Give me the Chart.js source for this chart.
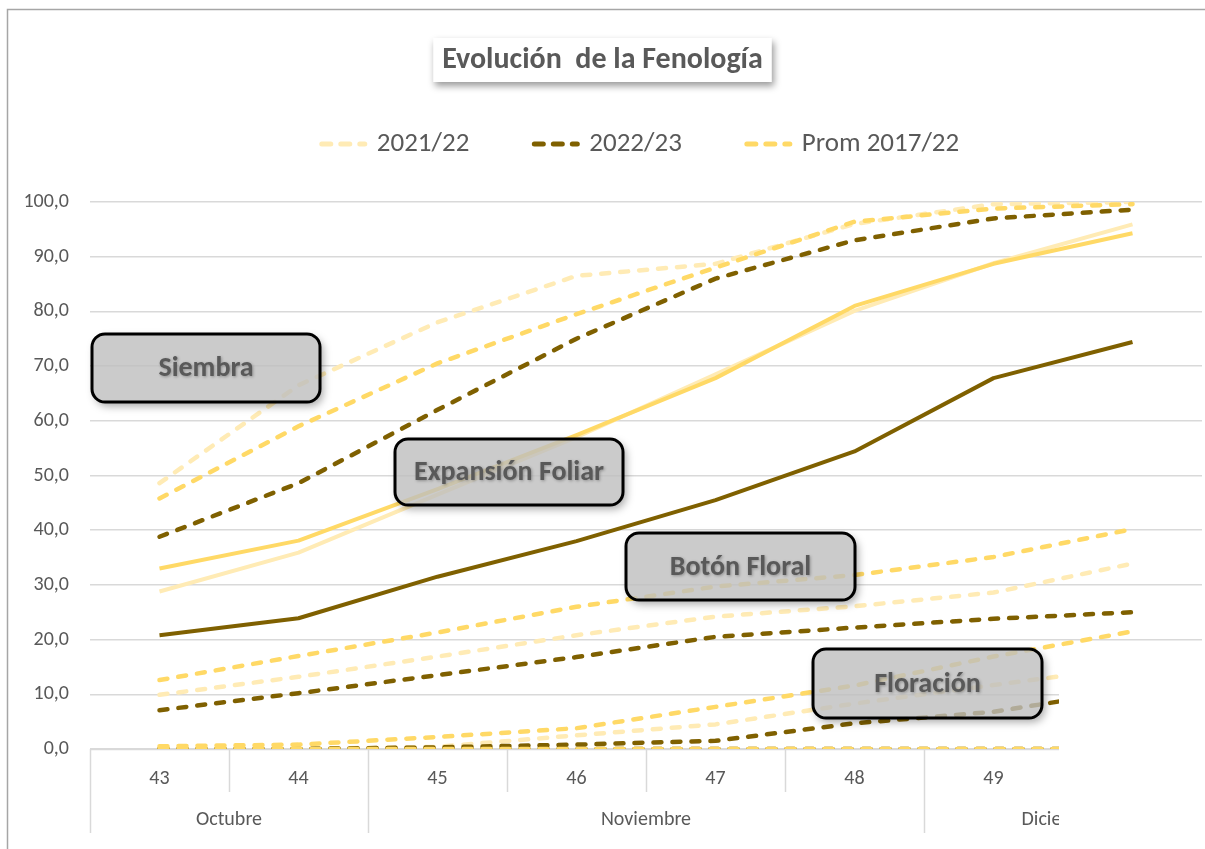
<!DOCTYPE html>
<html>
<head>
<meta charset="utf-8">
<script src="https://cdn.jsdelivr.net/npm/chart.js@4.4.1/dist/chart.umd.min.js"></script>
<style>
  html, body { margin: 0; padding: 0; background: #fff; }
  #wrap { width: 1205px; height: 849px; position: relative; }
</style>
</head>
<body>
<div id="wrap"><canvas id="chart"></canvas></div>
<script>
// semanas del año y meses (eje X de dos niveles)
const weeks = ['43', '44', '45', '46', '47', '48', '49', '50'];
const monthNames = ['Octubre', 'Noviembre', 'Diciembre'];
const monthSpans = [2, 4, 2];
const seasons = ['2021/22', '2022/23', 'Prom 2017/22'];

// Siembra (%)
const siembra2122 = [48.6, 66.5, 78.0, 86.5, 88.7, 96.0, 99.6, 100.0];
const siembra2223 = [38.8, 48.6, 62.0, 75.0, 86.0, 93.0, 97.0, 98.6];
const siembraProm = [45.8, 59.0, 70.5, 79.5, 88.0, 96.4, 98.8, 99.6];

// Expansión foliar (%)
const expansion2122 = [28.8, 35.9, 46.5, 57.0, 68.5, 80.1, 88.8, 95.9];
const expansion2223 = [20.8, 23.9, 31.5, 38.0, 45.5, 54.4, 67.8, 74.4];
const expansionProm = [33.0, 38.1, 47.5, 57.4, 67.8, 81.0, 88.7, 94.3];

// Botón floral (%)
const boton2122 = [9.9, 13.2, 16.9, 20.8, 24.2, 26.1, 28.6, 33.9];
const boton2223 = [7.1, 10.2, 13.5, 16.8, 20.5, 22.2, 23.8, 25.0];
const botonProm = [12.6, 17.0, 21.3, 26.0, 29.7, 31.8, 35.1, 40.2];

// Floración (%)
const floracion2122 = [0.0, 0.0, 0.4, 2.5, 4.5, 8.3, 11.7, 15.0];
const floracion2223 = [0.0, 0.0, 0.3, 0.8, 1.5, 4.7, 6.8, 10.8];
const floracionProm = [0.5, 0.8, 2.2, 3.8, 7.7, 11.6, 16.9, 21.5];

// fase siguiente, todavía sin avance
const siguiente2122 = [0, 0, 0, 0, 0, 0, 0, 0];
const siguiente2223 = [0, 0, 0, 0, 0, 0, 0, 0];
const siguienteProm = [0, 0, 0, 0, 0, 0, 0, 0];

const seasonColors = ['#FFEBB5', '#7F6000', '#FFD966'];
const FONT = 'Carlito, Lato, sans-serif';
const TEXT = '#595959';

function makeSet(label, data, season, dashed) {
    return {
        label,
        data,
        borderColor: seasonColors[season],
        backgroundColor: seasonColors[season],
        borderWidth: dashed ? 4.5 : 4,
        borderDash: dashed ? [8, 11] : [],
        borderCapStyle: dashed ? 'round' : 'butt',
        borderJoinStyle: 'round',
        pointRadius: 0,
        pointHoverRadius: 0,
        tension: 0,
        fill: false,
        order: [2, 1, 0][season]
    };
}

const datasets = [
    makeSet(seasons[0], siembra2122, 0, true),
    makeSet(seasons[1], siembra2223, 1, true),
    makeSet(seasons[2], siembraProm, 2, true),
    makeSet(seasons[0], expansion2122, 0, false),
    makeSet(seasons[1], expansion2223, 1, false),
    makeSet(seasons[2], expansionProm, 2, false),
    makeSet(seasons[0], boton2122, 0, true),
    makeSet(seasons[1], boton2223, 1, true),
    makeSet(seasons[2], botonProm, 2, true),
    makeSet(seasons[0], floracion2122, 0, true),
    makeSet(seasons[1], floracion2223, 1, true),
    makeSet(seasons[2], floracionProm, 2, true),
    makeSet(seasons[0], siguiente2122, 0, true),
    makeSet(seasons[1], siguiente2223, 1, true),
    makeSet(seasons[2], siguienteProm, 2, true)
];

// cajas de texto de cada fase (posición en pixeles del lienzo)
const stageBoxes = [
    { text: 'Siembra', x: 92, y: 334, w: 228, h: 68 },
    { text: 'Expansión Foliar', x: 395, y: 439, w: 228, h: 66 },
    { text: 'Botón Floral', x: 626, y: 533, w: 229, h: 67 },
    { text: 'Floración', x: 813, y: 649, w: 229, h: 69 }
];

function roundRect(ctx, x, y, w, h, r, keepPath) {
    if (!keepPath) ctx.beginPath();
    ctx.moveTo(x + r, y);
    ctx.arcTo(x + w, y, x + w, y + h, r);
    ctx.arcTo(x + w, y + h, x, y + h, r);
    ctx.arcTo(x, y + h, x, y, r);
    ctx.arcTo(x, y, x + w, y, r);
    ctx.closePath();
}

const frame = {
    id: 'frame',
    beforeDraw(chart) {
        const ctx = chart.ctx;
        ctx.save();
        ctx.fillStyle = '#fff';
        ctx.fillRect(0, 0, chart.width, chart.height);
        ctx.strokeStyle = '#a6a6a6';
        ctx.lineWidth = 1.5;
        ctx.beginPath();
        ctx.moveTo(7.5, chart.height);
        ctx.lineTo(7.5, 9.5);
        ctx.lineTo(chart.width, 9.5);
        ctx.stroke();
        ctx.restore();
    },
    beforeDatasetsDraw(chart) {
        const { ctx, chartArea } = chart;
        ctx.save();
        ctx.strokeStyle = '#d9d9d9';
        ctx.lineWidth = 1.5;
        ctx.beginPath();
        ctx.moveTo(chartArea.left, chartArea.bottom + 0.5);
        ctx.lineTo(chartArea.right, chartArea.bottom + 0.5);
        ctx.stroke();
        ctx.restore();
    }
};

const categoryAxis = {
    id: 'categoryAxis',
    afterDraw(chart) {
        const { ctx, chartArea } = chart;
        const xs = chart.scales.x;
        const step = xs.width / weeks.length;
        const edge = i => xs.getPixelForValue(0) - step / 2 + i * step;
        const monthEdges = [0];
        monthSpans.forEach(s => monthEdges.push(monthEdges[monthEdges.length - 1] + s));
        const top = chartArea.bottom;

        ctx.save();
        ctx.strokeStyle = '#d9d9d9';
        ctx.lineWidth = 1.5;
        for (let i = 0; i <= weeks.length; i++) {
            const x = Math.round(edge(i)) + 0.5;
            ctx.beginPath();
            ctx.moveTo(x, top);
            ctx.lineTo(x, monthEdges.includes(i) ? top + 84 : top + 43);
            ctx.stroke();
        }
        ctx.fillStyle = TEXT;
        ctx.font = '20px ' + FONT;
        ctx.textAlign = 'center';
        ctx.textBaseline = 'middle';
        monthNames.forEach((m, i) => {
            const cx = (edge(monthEdges[i]) + edge(monthEdges[i + 1])) / 2;
            ctx.fillText(m, cx, top + 71);
        });
        ctx.restore();

        // zona recortada en la esquina inferior derecha
        ctx.save();
        ctx.fillStyle = '#fff';
        ctx.fillRect(1059, 655, chart.width - 1059, chart.height - 655);
        ctx.restore();
    }
};

const stageLabels = {
    id: 'stageLabels',
    afterDraw(chart) {
        const ctx = chart.ctx;
        stageBoxes.forEach(b => {
            // sombra exterior (recortada fuera de la caja)
            ctx.save();
            ctx.beginPath();
            ctx.rect(0, 0, chart.width, chart.height);
            roundRect(ctx, b.x, b.y, b.w, b.h, 13, true);
            ctx.clip('evenodd');
            ctx.shadowColor = 'rgba(0,0,0,0.35)';
            ctx.shadowBlur = 8;
            ctx.shadowOffsetX = 3;
            ctx.shadowOffsetY = 4;
            roundRect(ctx, b.x, b.y, b.w, b.h, 13);
            ctx.fillStyle = '#000';
            ctx.fill();
            ctx.restore();

            ctx.save();
            roundRect(ctx, b.x, b.y, b.w, b.h, 13);
            ctx.fillStyle = 'rgba(190,190,190,0.8)';
            ctx.fill();
            ctx.lineWidth = 3;
            ctx.strokeStyle = '#000';
            ctx.stroke();
            ctx.font = 'bold 28px ' + FONT;
            ctx.textAlign = 'center';
            ctx.textBaseline = 'middle';
            ctx.shadowColor = 'rgba(0,0,0,0.3)';
            ctx.shadowBlur = 3;
            ctx.shadowOffsetX = 1;
            ctx.shadowOffsetY = 1;
            ctx.fillStyle = TEXT;
            ctx.fillText(b.text, b.x + b.w / 2, b.y + b.h / 2 + 1);
            ctx.restore();
        });
    }
};

const header = {
    id: 'header',
    afterDraw(chart) {
        const ctx = chart.ctx;
        const title = 'Evolución  de la Fenología';
        ctx.save();
        ctx.font = 'bold 30px ' + FONT;
        const tw = ctx.measureText(title).width;
        const cx = chart.width / 2;
        const bw = tw + 18, bh = 44;
        ctx.save();
        ctx.shadowColor = 'rgba(0,0,0,0.4)';
        ctx.shadowBlur = 7;
        ctx.shadowOffsetX = 2;
        ctx.shadowOffsetY = 4;
        ctx.fillStyle = '#fff';
        ctx.fillRect(cx - bw / 2, 38, bw, bh);
        ctx.restore();
        ctx.fillStyle = TEXT;
        ctx.textAlign = 'center';
        ctx.textBaseline = 'middle';
        ctx.fillText(title, cx, 60);

        // leyenda: solo las tres campañas
        ctx.font = '27px ' + FONT;
        const sample = 48, gapText = 10, gapItem = 62;
        const items = chart.data.datasets.slice(0, 3);
        const widths = items.map(d => sample + gapText + ctx.measureText(d.label).width);
        const total = widths.reduce((a, b) => a + b, 0) + gapItem * (items.length - 1);
        let x = 639 - total / 2;
        const y = 144;
        items.forEach((d, i) => {
            ctx.save();
            ctx.strokeStyle = d.borderColor;
            ctx.lineWidth = 5;
            ctx.lineCap = 'round';
            ctx.setLineDash([9, 10]);
            ctx.beginPath();
            ctx.moveTo(x + 3, y);
            ctx.lineTo(x + sample - 2, y);
            ctx.stroke();
            ctx.restore();
            ctx.fillStyle = TEXT;
            ctx.textAlign = 'left';
            ctx.fillText(d.label, x + sample + gapText, y);
            x += widths[i] + gapItem;
        });
        ctx.restore();
    }
};

new Chart(document.getElementById('chart'), {
    type: 'line',
    data: { labels: weeks, datasets },
    options: {
        responsive: true,
        maintainAspectRatio: false,
        animation: false,
        layout: { padding: { top: 202, right: 3, left: 0, bottom: 0 } },
        plugins: {
            legend: { display: false },
            title: { display: false },
            tooltip: { enabled: false }
        },
        scales: {
            x: {
                offset: true,
                grid: { display: false, drawTicks: false },
                border: { display: false },
                ticks: {
                    color: TEXT,
                    font: { family: FONT, size: 20 },
                    padding: 18,
                    maxRotation: 0,
                    autoSkip: false
                },
                afterFit: s => { s.height = 100; }
            },
            y: {
                min: 0,
                max: 100,
                grid: { color: '#d9d9d9', lineWidth: 1.5, drawTicks: false },
                border: { display: false },
                ticks: {
                    stepSize: 10,
                    color: TEXT,
                    font: { family: FONT, size: 20 },
                    padding: 21,
                    callback: v => v.toFixed(1).replace('.', ',')
                },
                afterFit: s => { s.width = 90; }
            }
        }
    },
    plugins: [frame, categoryAxis, stageLabels, header]
});
</script>
</body>
</html>
